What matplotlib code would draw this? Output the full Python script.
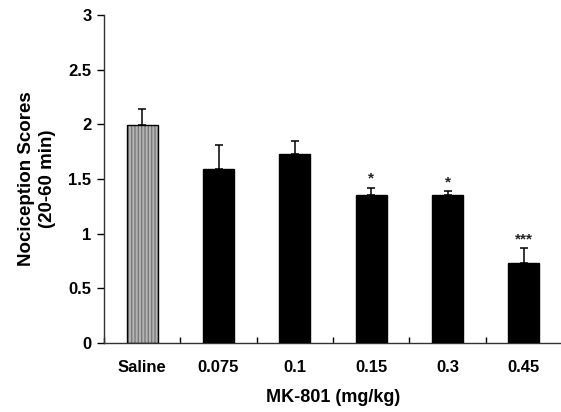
import numpy as np
import matplotlib
matplotlib.use("Agg")
import matplotlib.pyplot as plt

# Data
groups = ["Saline", "0.075", "0.1", "0.15", "0.3", "0.45"]
scores = [1.99, 1.595, 1.725, 1.357, 1.351, 0.735]
sem = [0.15, 0.215, 0.125, 0.065, 0.04, 0.13]
stars = ["", "", "", "*", "*", "***"]

plt.rcParams['font.family'] = ['Liberation Sans', 'DejaVu Sans']
plt.rcParams['font.weight'] = 'bold'

fig = plt.figure(figsize=(5.61, 4.12), dpi=100)
ax = fig.add_axes([0.1854, 0.1675, 0.8164, 0.7961])

x = np.arange(len(groups))
width = 0.41
colors = ['#b4b4b4'] + ['black'] * (len(groups) - 1)

# hatched fill for the saline bar, then outlines on top
ax.bar(x[:1], scores[:1], width, color=colors[0], edgecolor='#7a7a7a',
       hatch='|||||', linewidth=0, zorder=2)
ax.bar(x, scores, width, color=['none'] + colors[1:], edgecolor='black',
       linewidth=1.0, zorder=3)

# upper error bars only
ax.errorbar(x, scores, yerr=[np.zeros(len(sem)), sem], fmt='none',
            ecolor='black', elinewidth=1.1, capsize=2.6, capthick=1.1, zorder=4)

for xi, s, e, st in zip(x, scores, sem, stars):
    if st:
        ax.text(xi, s + e + 0.015, st, ha='center', va='bottom',
                fontsize=11, fontweight='bold', color='#222222')

ax.set_xlim(-0.5, len(groups) - 0.5)
ax.set_ylim(0, 3)
ax.set_yticks(np.arange(0, 3.01, 0.5))
ax.set_yticklabels(['0', '0.5', '1', '1.5', '2', '2.5', '3'])
ax.set_xticks(x)
ax.set_xticklabels(groups)
ax.set_xticks(np.arange(-0.5, len(groups) - 0.4, 1), minor=True)

ax.tick_params(axis='x', which='major', length=0, pad=12, labelsize=12)
ax.tick_params(axis='x', which='minor', direction='in', length=4, width=1)
ax.tick_params(axis='y', direction='out', length=5, width=1, labelsize=12, pad=4)

ax.spines['top'].set_visible(False)
ax.spines['right'].set_visible(False)
for sp in ['left', 'bottom']:
    ax.spines[sp].set_linewidth(1.0)
    ax.spines[sp].set_color('#333333')

ax.set_xlabel('MK-801 (mg/kg)', fontsize=13, fontweight='bold', labelpad=10)
ax.set_ylabel('Nociception Scores\n(20-60 min)', fontsize=13.5,
              fontweight='bold', labelpad=9, linespacing=1.3)

fig.savefig('out.png', dpi=100)
